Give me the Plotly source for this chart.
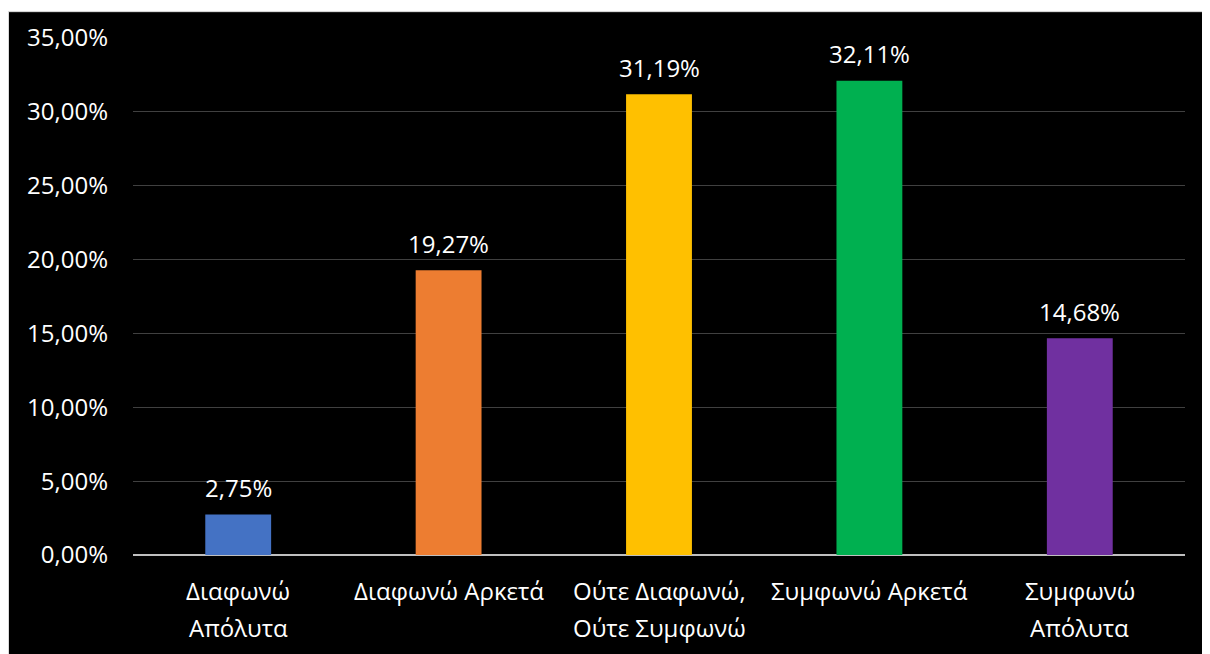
import plotly.graph_objects as go

categories = ["Διαφωνώ\nΑπόλυτα", "Διαφωνώ Αρκετά", "Ούτε Διαφωνώ,\nΟύτε Συμφωνώ",
              "Συμφωνώ Αρκετά", "Συμφωνώ\nΑπόλυτα"]
values = [0.0275, 0.1927, 0.3119, 0.3211, 0.1468]
colors = ["#4472C4", "#ED7D31", "#FFC000", "#00B050", "#7030A0"]
y_ticks = [0, 0.05, 0.10, 0.15, 0.20, 0.25, 0.30, 0.35]

FONT = "Open Sans"
# the page body adds an 8px margin; the figure is offset by 8px and runs past the window edge
W, H = 1210, 654
L, R, T, B = 125, 33, 27, 107
pw, ph = W - L - R, H - T - B

def px_x(p):
    return (p - L) / pw

def px_y(p):
    return (H - B - p) / ph

fig = go.Figure()
fig.add_trace(go.Bar(
    x=list(range(len(categories))), y=values,
    marker=dict(color=colors, line=dict(width=0)),
    width=0.313, hoverinfo="skip",
))

annotations = []
for i, (c, v) in enumerate(zip(categories, values)):
    label = f"{v*100:.2f}%".replace(".", ",")
    annotations.append(dict(x=i, y=v, xref="x", yref="y", text=label, showarrow=False,
                            yanchor="middle", yshift=27,
                            font=dict(family=FONT, size=24, color="white")))
    for j, line in enumerate(c.split("\n")):
        annotations.append(dict(x=i, y=0, xref="x", yref="paper", text=line, showarrow=False,
                                yanchor="middle", yshift=-(35 + 37 * j),
                                font=dict(family=FONT, size=24, color="white")))

fig.update_layout(
    width=W, height=H,
    margin=dict(l=L, r=R, t=T, b=B),
    paper_bgcolor="white", plot_bgcolor="black",
    separators=", ",
    showlegend=False,
    annotations=annotations,
    shapes=[dict(type="rect", xref="paper", yref="paper",
                 x0=px_x(0.5), x1=px_x(W + 20), y0=px_y(H + 20), y1=px_y(0.5),
                 fillcolor="black", line=dict(color="#d9d9d9", width=1), layer="below")],
    xaxis=dict(range=[-0.5, len(categories) - 0.5], showticklabels=False, showgrid=False,
               zeroline=False, showline=False, ticks="", fixedrange=True),
    yaxis=dict(range=[0, 0.35], tickvals=y_ticks, tickformat=".2%",
               showgrid=True, gridcolor="#404040", gridwidth=1.3,
               zeroline=True, zerolinecolor="#bfbfbf", zerolinewidth=1.5,
               showline=False, ticks="", ticklabelstandoff=24,
               tickfont=dict(family=FONT, size=24, color="white")),
)

fig.write_html("out.html")
